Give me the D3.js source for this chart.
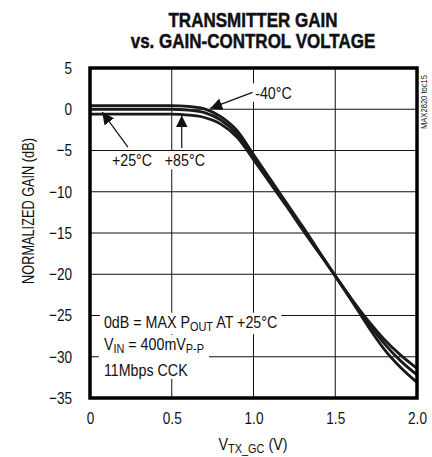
<!DOCTYPE html>
<html>
<head>
<meta charset="utf-8">
<script src="https://cdn.jsdelivr.net/npm/d3@7"></script>
<style>
	body { margin: 0; background: #fff; }
	svg { display: block; }
	text { font-family: "Liberation Sans", Arial, sans-serif; fill: #111; }
</style>
</head>
<body>
<div id="chart"></div>
<script>
//// Transmitter gain vs. gain-control voltage ////

// Gain-control voltage (V)
const vgc = [0, 0.5, 0.6, 0.7, 0.8, 0.9, 1.0, 1.1, 1.2, 1.3, 1.4, 1.5, 1.6, 1.7, 1.8, 1.9, 2.0];

// Normalized gain (dB) for each temperature
const gainM40 = [0.45, 0.45, 0.35, 0.05, -0.9, -2.6, -5.5, -8.4, -11.3, -14.2, -17.2, -20.2, -23.2, -26.3, -29.1, -31.3, -33.1];
const gainP25 = [0, 0, -0.1, -0.4, -1.3, -3.0, -5.8, -8.6, -11.5, -14.4, -17.3, -20.2, -23.1, -25.9, -28.4, -30.5, -32.2];
const gainP85 = [-0.6, -0.6, -0.7, -1.0, -1.8, -3.4, -6.1, -8.9, -11.7, -14.6, -17.4, -20.2, -23.0, -25.6, -27.9, -29.8, -31.4];

// Tick labels
const xTicks = [0, 0.5, 1.0, 1.5, 2.0];
const yTicks = [5, 0, -5, -10, -15, -20, -25, -30, -35];

const width = 432, height = 457;
const margin = {top: 68, right: 15, bottom: 59, left: 90};
const narrow = 0.84; // squeeze text horizontally, no condensed font here

const svg = d3.select("#chart").append("svg")
	.attr("width", width)
	.attr("height", height);

const x = d3.scaleLinear().domain([0, 2]).range([margin.left, width - margin.right]);
const y = d3.scaleLinear().domain([-35, 5]).range([height - margin.bottom, margin.top]);

// text placed at (px, py) and squeezed by sx
function squeezed(parent, px, py, sx, size, rot) {
	return parent.append("text")
		.attr("transform", `translate(${px},${py})` + (rot ? ` rotate(${rot})` : "") + ` scale(${sx},1)`)
		.attr("font-size", size);
}

// Title
squeezed(svg, 253, 27, 0.81, 21).attr("text-anchor", "middle").attr("font-weight", "bold")
	.attr("stroke", "#111").attr("stroke-width", 0.5)
	.text("TRANSMITTER GAIN");
squeezed(svg, 253, 48, 0.81, 21).attr("text-anchor", "middle").attr("font-weight", "bold")
	.attr("stroke", "#111").attr("stroke-width", 0.5)
	.text("vs. GAIN-CONTROL VOLTAGE");

// Grid lines
const grid = svg.append("g").attr("stroke", "#111").attr("stroke-width", 1);
grid.selectAll(".gx")
	.data(xTicks.slice(1, -1))
	.join("line")
	.attr("x1", d => x(d)).attr("x2", d => x(d))
	.attr("y1", y(5)).attr("y2", y(-35));
grid.selectAll(".gy")
	.data(yTicks.slice(1, -1))
	.join("line")
	.attr("x1", x(0)).attr("x2", x(2))
	.attr("y1", d => y(d)).attr("y2", d => y(d));

// Axes (labels only)
svg.append("g")
	.attr("transform", `translate(0,${y(-35)})`)
	.call(d3.axisBottom(x).tickValues(xTicks).tickSize(0).tickPadding(14)
		.tickFormat(d => d === 0 ? "0" : d.toFixed(1)));
svg.append("g")
	.attr("class", "yaxis")
	.attr("transform", `translate(${x(0)},0)`)
	.call(d3.axisLeft(y).tickValues(yTicks).tickSize(0).tickPadding(18));
svg.selectAll(".domain").remove();
svg.selectAll(".tick text")
	.attr("font-family", null).attr("font-size", 17).attr("fill", "#111")
	.attr("transform", `scale(${narrow - 0.04},1)`);
svg.selectAll(".yaxis .tick text").attr("x", -18 / (narrow - 0.04));

// Axis titles
const xt = squeezed(svg, 253, 450, narrow, 17).attr("text-anchor", "middle");
xt.append("tspan").text("V");
xt.append("tspan").attr("font-size", 13).attr("dy", 3).text("TX_GC");
xt.append("tspan").attr("dy", -3).text(" (V)");

squeezed(svg, 34, 211, 0.75, 17, -90).attr("text-anchor", "middle")
	.text("NORMALIZED GAIN (dB)");

// Curves
const series = [gainM40, gainP25, gainP85];
const line = d3.line()
	.x(d => x(d[0]))
	.y(d => y(d[1]))
	.curve(d3.curveMonotoneX);
svg.append("g")
	.selectAll("path")
	.data(series)
	.join("path")
	.attr("d", g => line(vgc.map((v, i) => [v, g[i]])))
	.attr("fill", "none")
	.attr("stroke", "#1a1a1a")
	.attr("stroke-width", 2.8);

// Plot frame
svg.append("rect")
	.attr("x", x(0)).attr("y", y(5))
	.attr("width", x(2) - x(0)).attr("height", y(-35) - y(5))
	.attr("fill", "none").attr("stroke", "#000").attr("stroke-width", 3.5);

// Figure tag at the right edge
squeezed(svg, 427, 102, 0.8, 9.5, -90).attr("text-anchor", "middle").attr("fill", "#333")
	.text("MAX2820 toc15");

// Labels with white background
function label(g, vx, vy) {
	return squeezed(g, x(vx), y(vy), narrow, 17);
}
function backing(g, nodes, pad) {
	let b = null;
	nodes.forEach(n => {
		const bb = n.getBoundingClientRect();
		if (!b) b = {x0: bb.left, y0: bb.top, x1: bb.right, y1: bb.bottom};
		else {
			b.x0 = Math.min(b.x0, bb.left); b.y0 = Math.min(b.y0, bb.top);
			b.x1 = Math.max(b.x1, bb.right); b.y1 = Math.max(b.y1, bb.bottom);
		}
	});
	g.insert("rect", ":first-child")
		.attr("x", b.x0 - pad).attr("y", b.y0)
		.attr("width", b.x1 - b.x0 + pad * 2).attr("height", b.y1 - b.y0)
		.attr("fill", "#fff");
}

// Arrows
svg.append("defs").append("marker")
	.attr("id", "head")
	.attr("viewBox", "0 0 10 10")
	.attr("refX", 10).attr("refY", 5)
	.attr("markerWidth", 12).attr("markerHeight", 12)
	.attr("markerUnits", "userSpaceOnUse")
	.attr("orient", "auto")
	.append("path").attr("d", "M0,0 L10,5 L0,10 Z").attr("fill", "#111");

const notes = svg.append("g");

const g40 = notes.append("g");
const t40 = label(g40, 1.01, 1.3).text("-40°C");
backing(g40, [t40.node()], 3);

const g25 = notes.append("g");
const t25 = label(g25, 0.134, -6.9).text("+25°C");
const t85 = label(g25, 0.457, -6.9).text("+85°C");
backing(g25, [t25.node()], 3);
backing(g25, [t85.node()], 3);

const arrows = [
	[[0.994, 2.05], [0.735, 0.1]],
	[[0.232, -4.6], [0.075, -0.35]],
	[[0.561, -4.7], [0.561, -0.75]]
];
notes.selectAll(".arrow")
	.data(arrows)
	.join("line")
	.attr("x1", d => x(d[0][0])).attr("y1", d => y(d[0][1]))
	.attr("x2", d => x(d[1][0])).attr("y2", d => y(d[1][1]))
	.attr("stroke", "#111").attr("stroke-width", 1.2)
	.attr("marker-end", "url(#head)");

// Test condition block
const gc = notes.append("g");
const c1 = label(gc, 0.085, -26.5);
c1.append("tspan").text("0dB = MAX P");
c1.append("tspan").attr("font-size", 13).attr("dy", 3).text("OUT");
c1.append("tspan").attr("dy", -3).text(" AT +25°C");
const c2 = label(gc, 0.085, -29.2);
c2.append("tspan").text("V");
c2.append("tspan").attr("font-size", 13).attr("dy", 3).text("IN");
c2.append("tspan").attr("dy", -3).text(" = 400mV");
c2.append("tspan").attr("font-size", 13).attr("dy", 3).text("P-P");
const c3 = label(gc, 0.085, -32.3).text("11Mbps CCK");
backing(gc, [c1.node()], 4);
backing(gc, [c2.node(), c3.node()], 5);
</script>
</body>
</html>
